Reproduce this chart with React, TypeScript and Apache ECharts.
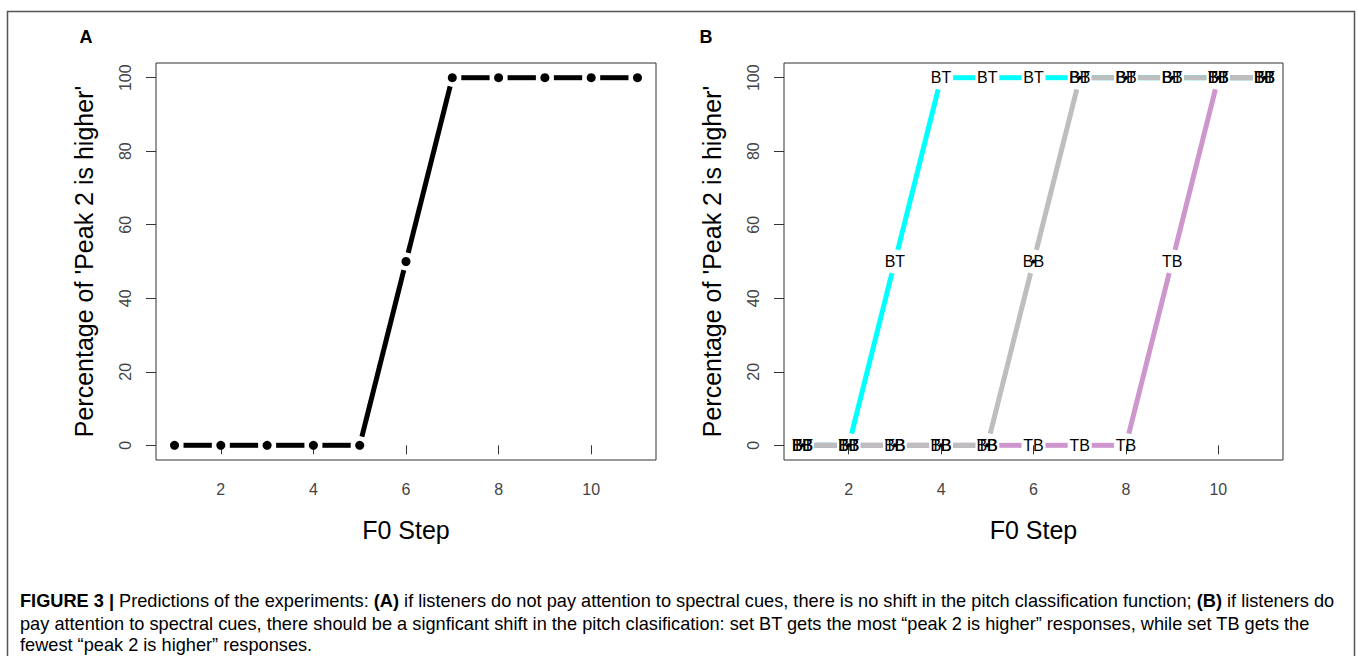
import React, { useEffect, useRef } from "react";
import * as echarts from "echarts";

// F0 steps along the x axis
const steps = [1, 2, 3, 4, 5, 6, 7, 8, 9, 10, 11];
// Panel A: single predicted classification function (% "peak 2 is higher")
const panelA = [0, 0, 0, 0, 0, 50, 100, 100, 100, 100, 100];
// Panel B: one function per spectral set
const setBT = [0, 0, 50, 100, 100, 100, 100, 100, 100, 100, 100];
const setTB = [0, 0, 0, 0, 0, 0, 0, 0, 50, 100, 100];
const setBB = [0, 0, 0, 0, 0, 50, 100, 100, 100, 100, 100];
const xTicks = [2, 4, 6, 8, 10];
const yTicks = [0, 20, 40, 60, 80, 100];

const FONT = "'Liberation Sans', Arial, Helvetica, sans-serif";
const X_MIN = 0.6;
const X_MAX = 11.4;
const Y_MIN = -4;
const Y_MAX = 104;

const segments = (vals: number[]) =>
  vals.slice(0, -1).map((v, i) => [steps[i], v, steps[i + 1], vals[i + 1]]);

const points = (vals: number[]) => vals.map((v, i) => [steps[i], v]);

// Line segments between consecutive points, cut back near each point (R type = "b")
const gappedLine = (gridIndex: number, vals: number[], color: string, width: number, gap: number) => ({
  type: "custom",
  xAxisIndex: gridIndex,
  yAxisIndex: gridIndex,
  data: segments(vals),
  encode: { x: [0, 2], y: [1, 3] },
  silent: true,
  renderItem: (_params: any, api: any) => {
    const p1 = api.coord([api.value(0), api.value(1)]);
    const p2 = api.coord([api.value(2), api.value(3)]);
    const dx = p2[0] - p1[0];
    const dy = p2[1] - p1[1];
    const len = Math.sqrt(dx * dx + dy * dy);
    if (len <= gap * 2) return null;
    const ux = dx / len;
    const uy = dy / len;
    return {
      type: "line",
      shape: {
        x1: p1[0] + ux * gap,
        y1: p1[1] + uy * gap,
        x2: p2[0] - ux * gap,
        y2: p2[1] - uy * gap,
      },
      style: { stroke: color, lineWidth: width, lineCap: "butt" },
    };
  },
});

const textMarks = (gridIndex: number, vals: number[], label: string) => ({
  type: "custom",
  xAxisIndex: gridIndex,
  yAxisIndex: gridIndex,
  data: points(vals),
  encode: { x: 0, y: 1 },
  silent: true,
  renderItem: (_params: any, api: any) => {
    const p = api.coord([api.value(0), api.value(1)]);
    return {
      type: "text",
      x: p[0],
      y: p[1],
      style: {
        text: label,
        fill: "#000",
        font: `16px ${FONT}`,
        align: "center",
        verticalAlign: "middle",
      },
    };
  },
});

const xAxisFor = (gridIndex: number) => ({
  type: "value",
  gridIndex,
  min: X_MIN,
  max: X_MAX,
  name: "F0 Step",
  nameLocation: "middle",
  nameGap: 57,
  nameTextStyle: { fontFamily: FONT, fontSize: 25, color: "#000" },
  axisLine: { show: false },
  splitLine: { show: false },
  axisTick: { show: true, length: 9, lineStyle: { color: "#333", width: 1 }, customValues: xTicks },
  axisLabel: {
    show: true,
    customValues: xTicks,
    margin: 21,
    fontFamily: FONT,
    fontSize: 16,
    color: "#444",
  },
});

const yAxisFor = (gridIndex: number) => ({
  type: "value",
  gridIndex,
  min: Y_MIN,
  max: Y_MAX,
  name: "Percentage of 'Peak 2 is higher'",
  nameLocation: "middle",
  nameRotate: 90,
  nameGap: 60,
  nameTextStyle: { fontFamily: FONT, fontSize: 25, color: "#000" },
  axisLine: { show: false },
  splitLine: { show: false },
  axisTick: { show: true, length: 10, lineStyle: { color: "#333", width: 1 }, customValues: yTicks },
  axisLabel: {
    show: true,
    customValues: yTicks,
    rotate: 90,
    margin: 23,
    fontFamily: FONT,
    fontSize: 16,
    color: "#444",
  },
});

export default function App() {
  const ref = useRef<HTMLDivElement>(null);

  useEffect(() => {
    if (!ref.current) return;
    const chart = echarts.init(ref.current, null, { renderer: "svg" });

    const captionRich = {
      b: { fontFamily: FONT, fontSize: 18.2, fontWeight: "bold", color: "#222" },
      n: { fontFamily: FONT, fontSize: 18.2, color: "#222" },
    };

    chart.setOption({
      animation: false,
      backgroundColor: "#fff",
      grid: [
        { left: 156, top: 63, width: 500, height: 397, show: true, borderColor: "#333", borderWidth: 1, backgroundColor: "transparent" },
        { left: 784, top: 63, width: 499, height: 397, show: true, borderColor: "#333", borderWidth: 1, backgroundColor: "transparent" },
      ],
      xAxis: [xAxisFor(0), xAxisFor(1)],
      yAxis: [yAxisFor(0), yAxisFor(1)],
      series: [
        gappedLine(0, panelA, "#000", 5, 9),
        {
          type: "scatter",
          xAxisIndex: 0,
          yAxisIndex: 0,
          data: points(panelA),
          symbol: "circle",
          symbolSize: 9,
          itemStyle: { color: "#000", opacity: 1 },
          silent: true,
        },
        gappedLine(1, setBT, "#00FFFF", 5, 12),
        gappedLine(1, setTB, "#CD96CD", 5, 12),
        gappedLine(1, setBB, "#BEBEBE", 5, 12),
        {
          type: "scatter",
          xAxisIndex: 1,
          yAxisIndex: 1,
          data: points(setBB),
          symbol: "circle",
          symbolSize: 4,
          itemStyle: { color: "#000", opacity: 1 },
          silent: true,
        },
        textMarks(1, setBT, "BT"),
        textMarks(1, setTB, "TB"),
        textMarks(1, setBB, "BB"),
      ],
      graphic: [
        {
          type: "rect",
          shape: { x: 7.5, y: 11.5, width: 1347, height: 700 },
          style: { fill: "none", stroke: "#555", lineWidth: 1.5 },
          silent: true,
        },
        {
          type: "text",
          x: 86,
          y: 37,
          style: { text: "A", font: `bold 18px ${FONT}`, fill: "#000", align: "center", verticalAlign: "middle" },
        },
        {
          type: "text",
          x: 706,
          y: 37,
          style: { text: "B", font: `bold 18px ${FONT}`, fill: "#000", align: "center", verticalAlign: "middle" },
        },
        {
          type: "text",
          x: 20,
          y: 601,
          style: {
            text:
              "{b|FIGURE 3 |}{n| Predictions of the experiments: }{b|(A)}{n| if listeners do not pay attention to spectral cues, there is no shift in the pitch classification function; }{b|(B)}{n| if listeners do}",
            rich: captionRich,
            verticalAlign: "middle",
          },
        },
        {
          type: "text",
          x: 20,
          y: 624,
          style: {
            text:
              "{n|pay attention to spectral cues, there should be a signficant shift in the pitch clasification: set BT gets the most \u201Cpeak 2 is higher\u201D responses, while set TB gets the}",
            rich: captionRich,
            verticalAlign: "middle",
          },
        },
        {
          type: "text",
          x: 20,
          y: 645,
          style: {
            text: "{n|fewest \u201Cpeak 2 is higher\u201D responses.}",
            rich: captionRich,
            verticalAlign: "middle",
          },
        },
      ],
    });

    return () => chart.dispose();
  }, []);

  return (
    <div
      ref={ref}
      style={{ position: "fixed", left: 0, top: 0, width: 1357, height: 656, background: "#fff" }}
    />
  );
}
